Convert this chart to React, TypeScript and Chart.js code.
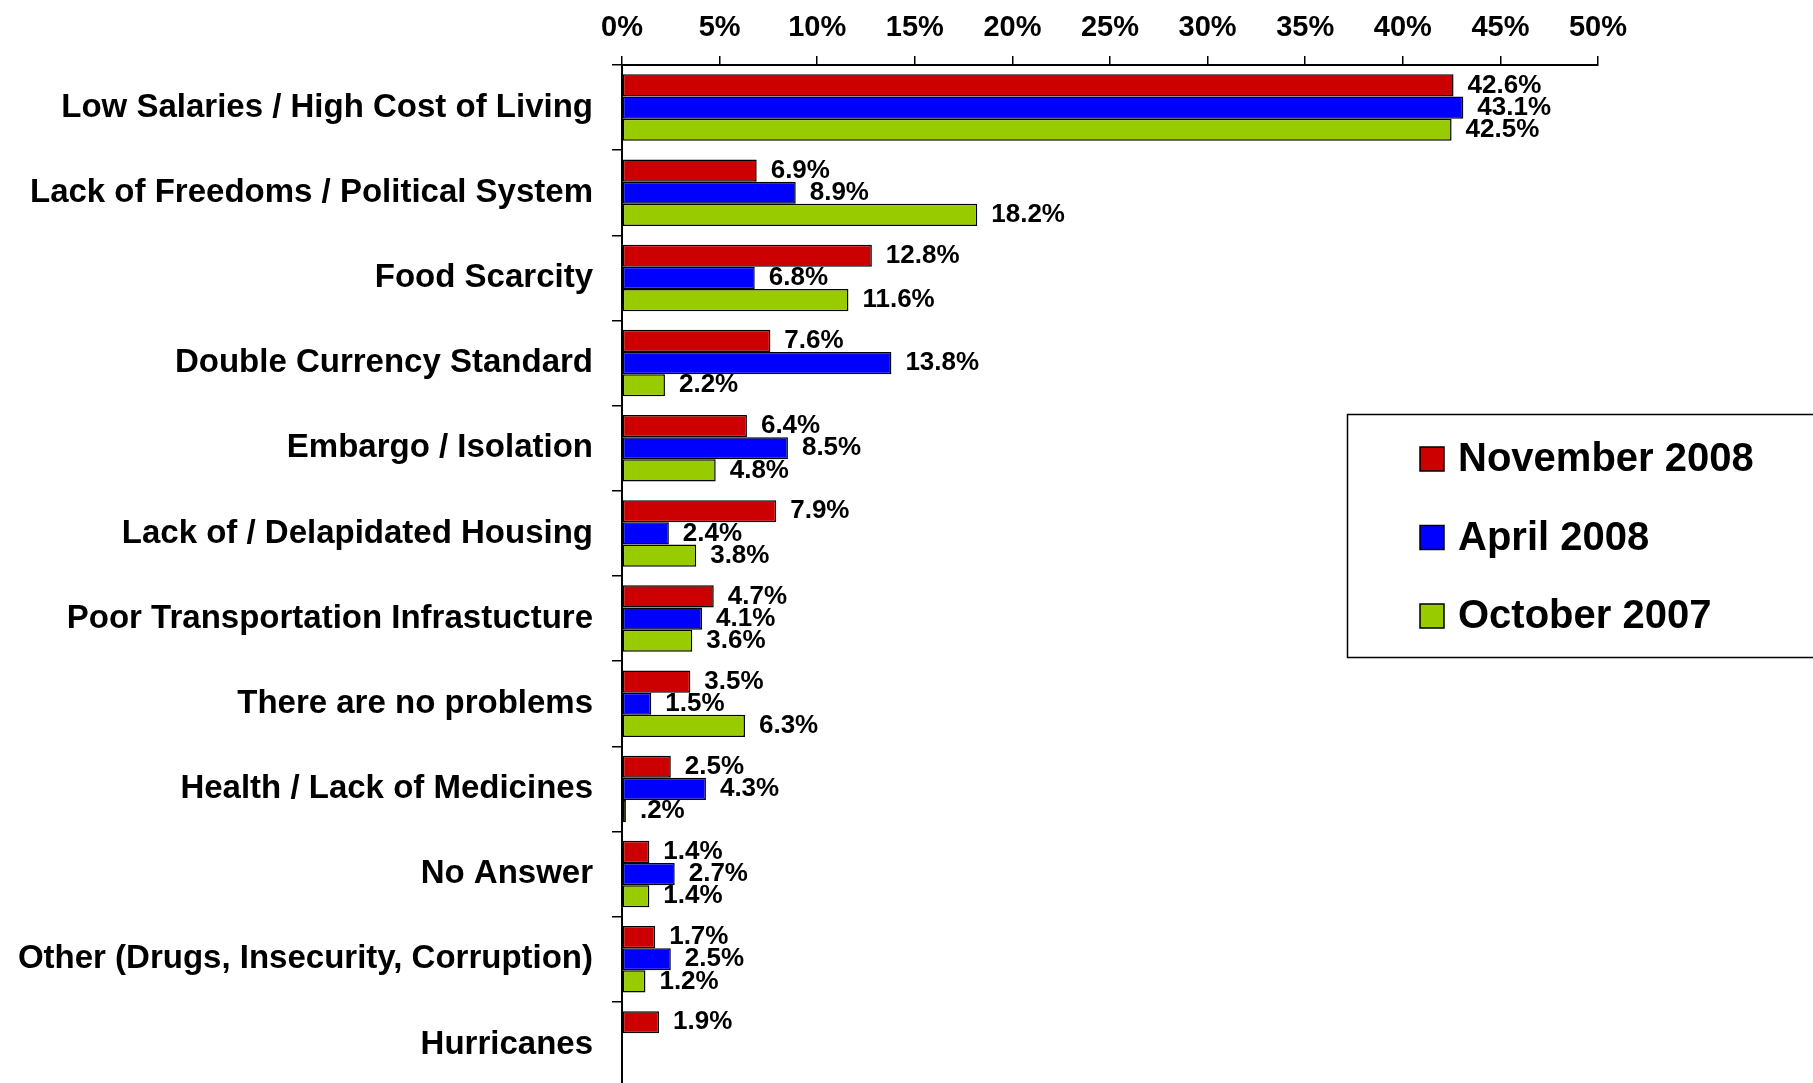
import React, { useEffect, useRef } from "react";
import { Chart, registerables } from "chart.js";
Chart.register(...registerables);

const categories = [
  "Low Salaries / High Cost of Living",
  "Lack of Freedoms / Political System",
  "Food Scarcity",
  "Double Currency Standard",
  "Embargo / Isolation",
  "Lack of / Delapidated Housing",
  "Poor Transportation Infrastucture",
  "There are no problems",
  "Health / Lack of Medicines",
  "No Answer",
  "Other (Drugs, Insecurity, Corruption)",
  "Hurricanes",
];
const seriesNames = ["November 2008", "April 2008", "October 2007"];
const nov2008 = [42.6, 6.9, 12.8, 7.6, 6.4, 7.9, 4.7, 3.5, 2.5, 1.4, 1.7, 1.9];
const apr2008 = [43.1, 8.9, 6.8, 13.8, 8.5, 2.4, 4.1, 1.5, 4.3, 2.7, 2.5, null];
const oct2007 = [42.5, 18.2, 11.6, 2.2, 4.8, 3.8, 3.6, 6.3, 0.2, 1.4, 1.2, null];
const xMin = 0;
const xMax = 50;
const xStep = 5;
const colors = ["#CC0000", "#0000FF", "#99CC00"];

const fmt = (v: number) => {
  const s = v.toFixed(1);
  return (s.startsWith("0.") ? s.slice(1) : s) + "%";
};

const dataLabels = {
  id: "dataLabels",
  afterDatasetsDraw(chart: any) {
    const ctx = chart.ctx;
    ctx.save();
    ctx.font = "bold 26px 'Liberation Sans', Arial, sans-serif";
    ctx.fillStyle = "#000";
    ctx.textAlign = "left";
    ctx.textBaseline = "middle";
    chart.data.datasets.forEach((ds: any, i: number) => {
      const meta = chart.getDatasetMeta(i);
      meta.data.forEach((el: any, j: number) => {
        const v = ds.data[j];
        if (v === null || v === undefined) return;
        ctx.fillText(fmt(v), el.x + 14, el.y);
      });
    });
    ctx.restore();
  },
};

const boxLegend = {
  id: "boxLegend",
  afterDraw(chart: any) {
    const ctx = chart.ctx;
    ctx.save();
    ctx.strokeStyle = "#000";
    ctx.lineWidth = 1.5;
    ctx.strokeRect(1347.5, 414.5, 500, 243);
    ctx.font = "bold 40px 'Liberation Sans', Arial, sans-serif";
    ctx.textBaseline = "middle";
    ctx.textAlign = "left";
    chart.data.datasets.forEach((ds: any, i: number) => {
      const cy = 459 + i * 78.5;
      ctx.fillStyle = ds.backgroundColor;
      ctx.fillRect(1420, cy - 12, 24, 24);
      ctx.strokeStyle = "#000";
      ctx.lineWidth = 1.5;
      ctx.strokeRect(1420, cy - 12, 24, 24);
      ctx.fillStyle = "#000";
      ctx.fillText(ds.label, 1458, cy + 1);
    });
    ctx.restore();
  },
};

export default function App() {
  const ref = useRef<HTMLCanvasElement>(null);
  useEffect(() => {
    if (!ref.current) return;
    const series = [nov2008, apr2008, oct2007];
    const chart = new Chart(ref.current, {
      type: "bar",
      data: {
        labels: categories,
        datasets: series.map((d, i) => ({
          label: seriesNames[i],
          data: d,
          backgroundColor: colors[i],
          borderColor: "#000",
          borderWidth: 1.5,
          borderSkipped: false,
          categoryPercentage: 0.78,
          barPercentage: 1,
        })),
      },
      options: {
        indexAxis: "y",
        responsive: false,
        animation: false,
        layout: { padding: { left: 0, right: 215, top: 0, bottom: 1 } },
        plugins: { legend: { display: false }, tooltip: { enabled: false } },
        scales: {
          x: {
            type: "linear",
            position: "top",
            min: xMin,
            max: xMax,
            ticks: {
              stepSize: xStep,
              callback: (v: any) => v + "%",
              color: "#000",
              font: { family: "'Liberation Sans', Arial, sans-serif", size: 29, weight: "bold" },
              padding: 11,
            },
            grid: { drawOnChartArea: false, drawTicks: true, tickLength: 9, color: "#000", lineWidth: 1.5 },
            border: { display: true, color: "#000", width: 2 },
            afterFit: (s: any) => { s.height = 65; s.paddingLeft = 0; s.paddingRight = 0; },
          },
          y: {
            type: "category",
            ticks: {
              color: "#000",
              font: { family: "'Liberation Sans', Arial, sans-serif", size: 33, weight: "bold" },
              padding: 19,
              autoSkip: false,
            },
            grid: { drawOnChartArea: false, drawTicks: true, tickLength: 10, offset: true, color: "#000", lineWidth: 1.5 },
            border: { display: true, color: "#000", width: 2 },
            afterFit: (s: any) => { s.width = 622; s.paddingTop = 0; s.paddingBottom = 0; },
          },
        },
      },
      plugins: [dataLabels, boxLegend],
    } as any);
    return () => chart.destroy();
  }, []);
  return (
    <div style={{ position: "fixed", left: 0, top: 0, width: 1813, height: 1083, overflow: "hidden", background: "#fff" }}>
      <canvas ref={ref} width={1813} height={1088} style={{ display: "block", width: 1813, height: 1088 }} />
    </div>
  );
}
